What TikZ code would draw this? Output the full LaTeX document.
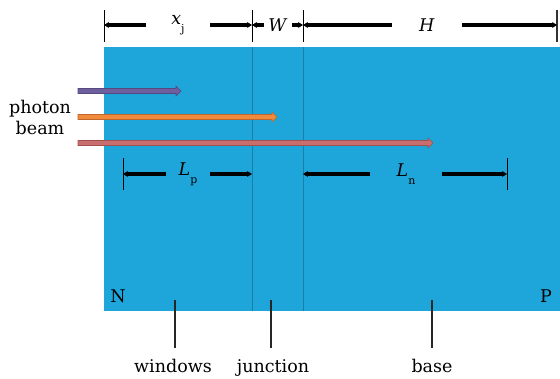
\documentclass[tikz,border=0pt]{standalone}
\usepackage{fontspec}
\setmainfont{DejaVu Serif}
\usetikzlibrary{arrows.meta,calc}
\definecolor{siblue}{HTML}{1EA6DB}
\definecolor{divblue}{HTML}{1B7EA6}
\definecolor{beamA}{HTML}{6E5F9E}
\definecolor{beamAo}{HTML}{55497F}
\definecolor{beamB}{HTML}{F08A3C}
\definecolor{beamBo}{HTML}{C0662A}
\definecolor{beamC}{HTML}{C96E6E}
\definecolor{beamCo}{HTML}{A05050}
\newcommand{\photonbeam}[3]{%
  \filldraw[#3] ($(#1)+(0,-2.5)$) -- ($(#2)+(-5,-2.5)$) -- ($(#2)+(-5,-5)$) -- (#2)
    -- ($(#2)+(-5,5)$) -- ($(#2)+(-5,2.5)$) -- ($(#1)+(0,2.5)$) -- cycle;}
\newcommand{\lowsub}[1]{\raisebox{-0.45em}{\fontsize{11}{11}\selectfont #1}}
\tikzset{
  dimline/.style={line width=3.2pt,black},
  dimtip/.style={-{Stealth[length=5pt,width=6pt]}},
  tick/.style={line width=1pt,black},
  divider/.style={line width=0.7pt,divblue},
  leader/.style={line width=1.1pt,black!85},
  lbl/.style={font=\fontsize{17.5}{21}\selectfont,inner sep=0pt},
  dimlbl/.style={font=\fontsize{17.5}{21}\selectfont,inner sep=0pt,minimum height=14pt}
}
\begin{document}
\begin{tikzpicture}[x=1pt,y=-1pt]
\useasboundingbox (0,0) rectangle (560,378);
% body
\fill[siblue] (104,47) rectangle (560,311);
\draw[divider] (252,47) -- (252,311);
\draw[divider] (303,47) -- (303,311);
% top dimension ticks
\coordinate (t0) at (104,25);
\coordinate (t1) at (252,25);
\coordinate (t2) at (303,25);
\coordinate (t3) at (557,25);
\draw[tick] (104,10) -- (104,42);
\draw[tick] (252,10) -- (252,42);
\draw[tick] (303,10) -- (303,42);
\draw[tick,line width=1.4pt,black!80] (557,10) -- (557,42);
\node[dimlbl,minimum width=64pt] (xj) at (178,25) {\textit{x}\lowsub{j}};
\node[dimlbl,minimum width=28pt] (W) at (278,25) {\textit{W}};
\node[dimlbl,minimum width=70pt] (H) at (427,25) {\textit{H}};
\draw[dimline,dimtip] (xj.west) -- (t0);
\draw[dimline,dimtip] (xj.east) -- (t1);
\draw[dimline,dimtip] (W.west) -- (t1);
\draw[dimline,dimtip] (W.east) -- (t2);
\draw[dimline,dimtip] (H.west) -- (t2);
\draw[dimline,dimtip] (H.east) -- (t3);
% photon beams
\node[lbl,align=center] (beam) at (40,117) {photon\\beam};
\coordinate (s1) at (78,91);  \coordinate (e1) at (181,91);
\coordinate (s2) at (78,117); \coordinate (e2) at (277,117);
\coordinate (s3) at (78,143); \coordinate (e3) at (433,143);
\photonbeam{s1}{e1}{fill=beamA,draw=beamAo,line width=0.6pt}
\photonbeam{s2}{e2}{fill=beamB,draw=beamBo,line width=0.6pt}
\photonbeam{s3}{e3}{fill=beamC,draw=beamCo,line width=0.6pt}
% diffusion lengths
\coordinate (lp0) at (123,174);
\coordinate (lp1) at (252,174);
\coordinate (ln0) at (303,174);
\coordinate (ln1) at (507,174);
\draw[tick] (123,158) -- (123,190);
\draw[tick] (507,158) -- (507,190);
\node[dimlbl,minimum width=44pt] (Lp) at (188,174) {\textit{L}\lowsub{p}};
\node[dimlbl,minimum width=72pt] (Ln) at (406,174) {\textit{L}\lowsub{n}};
\draw[dimline,dimtip] (Lp.west) -- (lp0);
\draw[dimline,dimtip] (Lp.east) -- (lp1);
\draw[dimline,dimtip] (Ln.west) -- (ln0);
\draw[dimline,dimtip] (Ln.east) -- (ln1);
% N and P
\node[lbl] (N) at (118,296) {N};
\node[lbl] (P) at (546,296) {P};
% bottom labels
\node[lbl,anchor=base] (win) at (173,372) {windows};
\node[lbl,anchor=base] (jun) at (273,372) {junction};
\node[lbl,anchor=base] (bas) at (432,372) {base};
\coordinate (w1) at (175,300); \coordinate (w2) at (175,348);
\coordinate (j1) at (271,300); \coordinate (j2) at (271,348);
\coordinate (b1) at (432,300); \coordinate (b2) at (432,348);
\draw[leader] (w1) -- (w2);
\draw[leader] (j1) -- (j2);
\draw[leader] (b1) -- (b2);
\end{tikzpicture}
\end{document}
